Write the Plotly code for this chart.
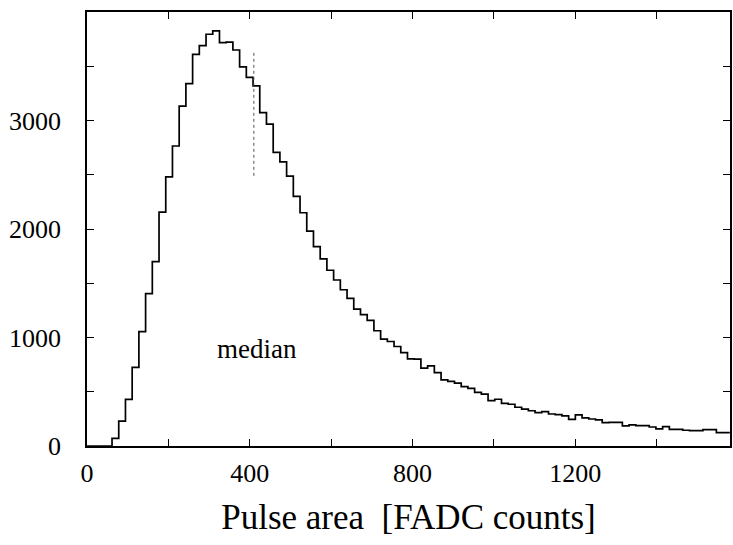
import numpy as np
import plotly.graph_objects as go

# Histogram data (pulse area in FADC counts)
BIN_START = 61.5
BIN_WIDTH = 16.5
counts = [
    70, 230, 430, 725, 1055, 1405, 1700, 2155, 2480, 2765,
    3133, 3340, 3610, 3690, 3795, 3826, 3718, 3722, 3650, 3494,
    3398, 3320, 3072, 2967, 2706, 2618, 2487, 2300, 2150, 1980,
    1838, 1724, 1620, 1530, 1440, 1360, 1262, 1210, 1157, 1062,
    985, 963, 917, 860, 803, 800, 717, 739, 677, 609,
    595, 580, 548, 532, 495, 478, 418, 431, 392, 385,
    357, 339, 325, 308, 317, 295, 290, 277, 246, 286,
    260, 249, 240, 215, 218, 218, 185, 194, 188, 188,
    175, 157, 178, 154, 154, 145, 141, 141, 151, 151,
    123, 123,
]
median_x = 410
median_y = [2490, 3625]
median_label = "median"
median_label_pos = (418, 890)

x_tickvals = [0, 200, 400, 600, 800, 1000, 1200, 1400]
x_ticktext = ["0", "", "400", "", "800", "", "1200", ""]
y_tickvals = [0, 500, 1000, 1500, 2000, 2500, 3000, 3500]
y_ticktext = ["0", "", "1000", "", "2000", "", "3000", ""]
x_title = "Pulse area  [FADC counts]"

n = len(counts)
edges = BIN_START + BIN_WIDTH * np.arange(n + 1)
xs = np.concatenate([[0.0], edges])
ys = np.concatenate([[0.0], counts, [counts[-1]]])

SERIF = "Liberation Serif, Times New Roman, serif"

fig = go.Figure()
fig.add_trace(go.Scatter(
    x=xs, y=ys, mode="lines", line=dict(shape="hv", color="black", width=1.7),
    hoverinfo="skip", showlegend=False,
))
fig.add_trace(go.Scatter(
    x=[median_x, median_x], y=median_y, mode="lines",
    line=dict(color="#555555", width=1, dash="dot"),
    hoverinfo="skip", showlegend=False,
))
fig.add_annotation(
    x=median_label_pos[0], y=median_label_pos[1], text=median_label,
    showarrow=False, font=dict(family=SERIF, size=27, color="black"),
)

axis_common = dict(
    showline=True, linecolor="black", linewidth=1.6, mirror="ticks",
    ticks="inside", ticklen=7, tickwidth=1.3, tickcolor="black",
    showgrid=False, zeroline=False,
    tickfont=dict(family=SERIF, size=26, color="black"),
)
fig.update_xaxes(
    range=[0, 1580], tickmode="array", tickvals=x_tickvals, ticktext=x_ticktext,
    ticklabelstandoff=3,
    title=dict(text=x_title, font=dict(family=SERIF, size=35, color="black"), standoff=17),
    **axis_common,
)
fig.update_yaxes(
    range=[0, 4000], tickmode="array", tickvals=y_tickvals, ticktext=y_ticktext,
    ticklabelstandoff=19,
    **axis_common,
)
fig.update_layout(
    width=733, height=545,
    margin=dict(l=87, r=1, t=12, b=99),
    paper_bgcolor="white", plot_bgcolor="white",
)
fig.write_html("out.html")
